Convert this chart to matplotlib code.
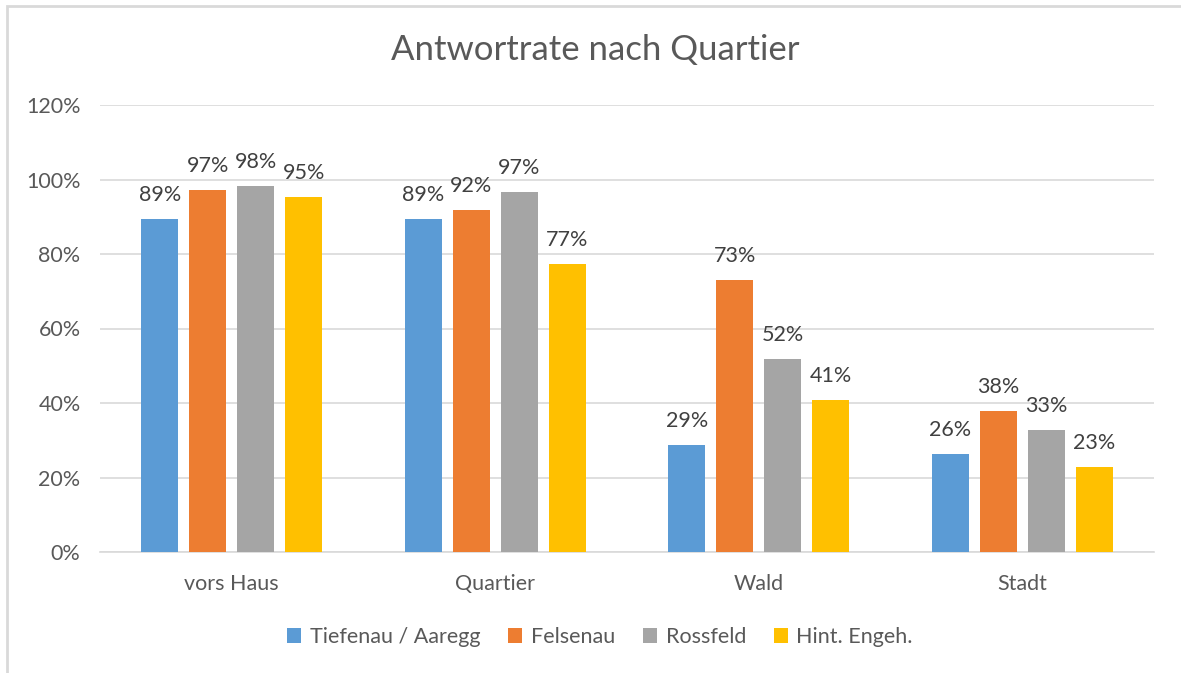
import matplotlib
matplotlib.use("Agg")
import matplotlib.pyplot as plt
import numpy as np
from matplotlib.patches import Rectangle

categories = ["vors Haus", "Quartier", "Wald", "Stadt"]
series_names = ["Tiefenau / Aaregg", "Felsenau", "Rossfeld", "Hint. Engeh."]
tiefenau = [89.4, 89.4, 28.8, 26.2]
felsenau = [97.2, 91.8, 72.9, 37.9]
rossfeld = [98.3, 96.6, 51.8, 32.8]
hint_engeh = [95.3, 77.3, 40.8, 22.7]
yticks = [0, 20, 40, 60, 80, 100, 120]

colors = ["#5B9BD5", "#ED7D31", "#A5A5A5", "#FFC000"]
TEXT = "#595959"
GRID = "#D9D9D9"

plt.rcParams["font.family"] = ["Lato", "DejaVu Sans"]

fig = plt.figure(figsize=(11.81, 6.73), dpi=100, facecolor="white")
ax = fig.add_axes([100 / 1181, 1 - 552 / 673, 1054 / 1181, 447 / 673])

x = np.arange(len(categories))
width = 0.14
step = 0.182
all_series = [tiefenau, felsenau, rossfeld, hint_engeh]
for i, (name, vals, c) in enumerate(zip(series_names, all_series, colors)):
    pos = x + (i - 1.5) * step
    bars = ax.bar(pos, vals, width, color=c, label=name, zorder=3)
    for b, v in zip(bars, vals):
        ax.text(b.get_x() + b.get_width() / 2, v + 3.8, f"{round(v)}%",
                ha="center", va="bottom", fontsize=15.5, color="#404040")

ax.set_xlim(-0.5, len(categories) - 0.5)
ax.set_ylim(0, 120)
ax.set_yticks(yticks)
ax.set_yticklabels([f"{t}%" for t in yticks])
ax.set_xticks(x)
ax.set_xticklabels(categories)
ax.yaxis.grid(True, color=GRID, linewidth=1.2, zorder=0)
ax.set_axisbelow(True)
for s in ["top", "right", "left"]:
    ax.spines[s].set_visible(False)
ax.spines["bottom"].set_color(GRID)
ax.spines["bottom"].set_linewidth(1.2)
ax.tick_params(axis="both", length=0, labelsize=15.5, labelcolor=TEXT)
ax.tick_params(axis="y", pad=14)
ax.tick_params(axis="x", pad=16)

fig.text(595 / 1181, 1 - 50 / 673, "Antwortrate nach Quartier", ha="center",
         va="center", fontsize=25, color=TEXT)

leg = fig.legend(loc="center", bbox_to_anchor=(600 / 1181, 1 - 637 / 673),
                 ncol=4, frameon=False, fontsize=15.5, handlelength=0.65,
                 handleheight=0.65, handletextpad=0.4, columnspacing=1.3)
for t in leg.get_texts():
    t.set_color(TEXT)

fig.add_artist(Rectangle((6.5 / 1181, -0.05), 1.2, 1.05 - 6 / 673,
                         transform=fig.transFigure, fill=False,
                         edgecolor=GRID, linewidth=2))

fig.savefig("out.png", dpi=100, facecolor="white")
